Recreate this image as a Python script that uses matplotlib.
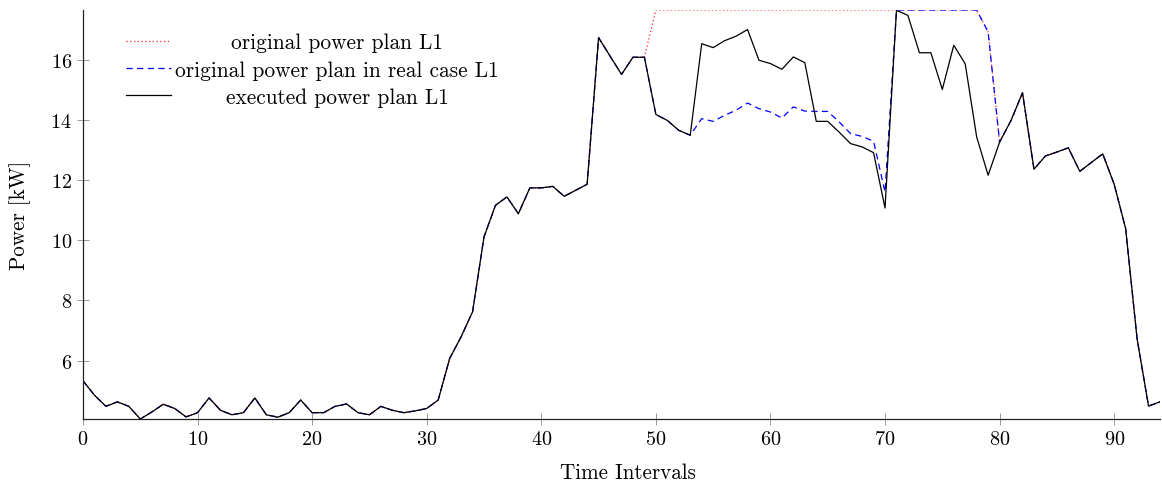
import matplotlib
matplotlib.use('Agg')
import matplotlib.pyplot as plt
import numpy as np

plt.rcParams['font.family'] = 'cmr10'
plt.rcParams['axes.formatter.use_mathtext'] = True
plt.rcParams['font.size'] = 15

# executed power plan L1, one value per time interval (0..94)
executed = [5.33, 4.85, 4.48, 4.63, 4.48, 4.06, 4.29, 4.55, 4.41, 4.13,
            4.27, 4.76, 4.35, 4.20, 4.27, 4.76, 4.20, 4.12, 4.27, 4.69,
            4.27, 4.27, 4.48, 4.56, 4.27, 4.20, 4.48, 4.35, 4.27, 4.33,
            4.41, 4.69, 6.07, 6.79, 7.62, 10.11, 11.16, 11.44, 10.88, 11.74,
            11.74, 11.79, 11.46, 11.66, 11.86, 16.73, 16.12, 15.51, 16.08, 16.08,
            14.18, 13.98, 13.65, 13.49, 16.53, 16.40, 16.63, 16.78, 17.00, 15.98,
            15.87, 15.68, 16.09, 15.90, 13.95, 13.95, 13.59, 13.21, 13.10, 12.91,
            11.07, 17.64, 17.47, 16.23, 16.23, 15.01, 16.48, 15.86, 13.43, 12.16,
            13.26, 13.98, 14.90, 12.36, 12.80, 12.93, 13.07, 12.29, 12.58, 12.87,
            11.86, 10.39, 6.73, 4.49, 4.63]

# where the plans differ from the executed one
real_case_54_79 = [14.04, 13.95, 14.15, 14.32, 14.56, 14.37, 14.26, 14.06, 14.43,
                   14.29, 14.28, 14.28, 13.93, 13.54, 13.45, 13.29, 11.60,
                   17.65, 17.65, 17.65, 17.65, 17.65, 17.65, 17.65, 17.65, 16.92]
original_50_79 = [17.65, 17.65, 17.65, 17.65, 17.65, 17.65, 17.65, 17.65, 17.65, 17.65,
                  17.65, 17.65, 17.65, 17.65, 17.65, 17.65, 17.65, 17.65, 17.65, 17.65,
                  17.65, 17.65, 17.65, 17.65, 17.65, 17.65, 17.65, 17.65, 17.65, 16.92]

real_case = executed[:54] + real_case_54_79 + executed[80:]
original = executed[:50] + original_50_79 + executed[80:]
t = np.arange(len(executed))

fig = plt.figure(figsize=(11.62, 4.81), dpi=100)
ax = fig.add_axes([83 / 1162, 61 / 481, 1077 / 1162, 409 / 481])

ax.plot(t, original, linestyle=(0, (1, 2)), color='#ff2020', linewidth=0.9,
        label='original power plan L1')
ax.plot(t, real_case, linestyle=(0, (5, 3.5)), color='#0000ff', linewidth=0.9,
        label='original power plan in real case L1')
ax.plot(t, executed, linestyle='-', color='black', linewidth=0.9,
        label='executed power plan L1')

ax.set_xlim(0, 94)
ax.set_ylim(min(executed), max(original))
ax.set_xticks([0, 10, 20, 30, 40, 50, 60, 70, 80, 90])
ax.set_yticks([6, 8, 10, 12, 14, 16])

for s in ['top', 'right']:
    ax.spines[s].set_visible(False)
for s in ['left', 'bottom']:
    ax.spines[s].set_color('#222222')
    ax.spines[s].set_linewidth(0.9)
ax.tick_params(direction='inout', length=8, width=0.6, color='#888888',
               labelsize=14.5, pad=4)

ax.set_xlabel('Time Intervals', fontsize=15.2, labelpad=10)
ax.xaxis.label.set_x(0.506)
ax.set_ylabel('Power [kW]', fontsize=15.2, labelpad=14)

leg = ax.legend(loc='upper left', bbox_to_anchor=(0.030, 0.970), frameon=False,
                borderpad=0, handlelength=2.1, handletextpad=0.2,
                labelspacing=0.36, fontsize=15.4)

# pgfplots centres the legend texts; shift each one inside its box
fig.canvas.draw()
r = fig.canvas.get_renderer()
widths = [tx.get_window_extent(r).width for tx in leg.get_texts()]
wmax = max(widths)
for tx, w in zip(leg.get_texts(), widths):
    tx.set_x((wmax - w) / 2)

fig.savefig('out.png', dpi=100)
plt.close(fig)
